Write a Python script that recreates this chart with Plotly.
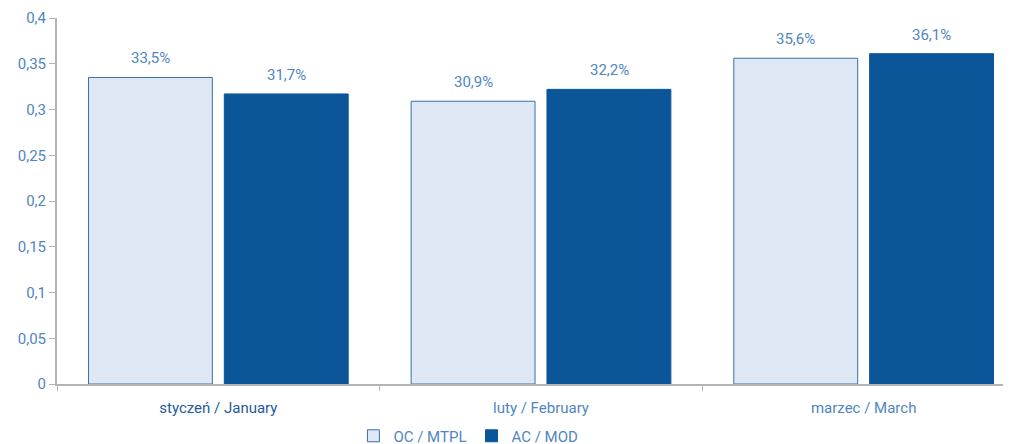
import plotly.graph_objects as go

months = ["styczeń / January", "luty / February", "marzec / March"]
month_labels = ['<span style="color:#1f5a9a">styczeń / January</span>',
                "luty / February", "marzec / March"]
oc_mtpl = [0.335, 0.309, 0.356]
ac_mod = [0.317, 0.322, 0.361]

label_col = "#4f86bf"
fnt = "Roboto, DejaVu Sans, sans-serif"

fig = go.Figure()
fig.add_trace(go.Bar(
    x=months, y=oc_mtpl, name="OC / MTPL",
    marker=dict(color="#dde8f4", line=dict(color="#3a6fa8", width=1)),
))
fig.add_trace(go.Bar(
    x=months, y=ac_mod, name="AC / MOD",
    marker=dict(color="#0b5699", line=dict(color="#0b5699", width=1)),
))

# value labels above the bars
for series, shift in ((oc_mtpl, -68), (ac_mod, 68)):
    for m, v in zip(months, series):
        fig.add_annotation(
            x=m, y=v, xshift=shift, yshift=19, showarrow=False,
            text=f"{v * 100:.1f}%".replace(".", ","),
            font=dict(size=15, color=label_col),
        )

# page body has an 8px margin; plot area runs a bit past the right edge of the window
fig.update_layout(
    width=1030, height=444,
    margin=dict(l=49, r=13, t=10, b=68),
    paper_bgcolor="white", plot_bgcolor="white",
    separators=", ",
    barmode="group", bargap=0.158, bargroupgap=0.088,
    font=dict(family=fnt, size=15, color=label_col),
    legend=dict(orientation="h", x=0.447, xanchor="center", xref="container",
                y=0.036, yanchor="middle", yref="container",
                font=dict(size=15, color=label_col), itemwidth=30,
                tracegroupgap=0),
    showlegend=True,
)
fig.update_xaxes(
    showline=True, linecolor="#b4b4b4", linewidth=2,
    ticks="outside", tickson="boundaries", ticklen=5, tickcolor="#b4b4b4",
    tickvals=months, ticktext=month_labels, ticklabelstandoff=9,
    tickfont=dict(size=15, color=label_col), automargin=False,
)
fig.update_yaxes(
    range=[0, 0.4], dtick=0.05, showgrid=False, zeroline=False,
    showline=True, linecolor="#b4b4b4", linewidth=2,
    ticks="outside", ticklen=6, tickcolor="#b4b4b4",
    tickfont=dict(size=15, color=label_col), automargin=False,
)

fig.write_html("out.html")
